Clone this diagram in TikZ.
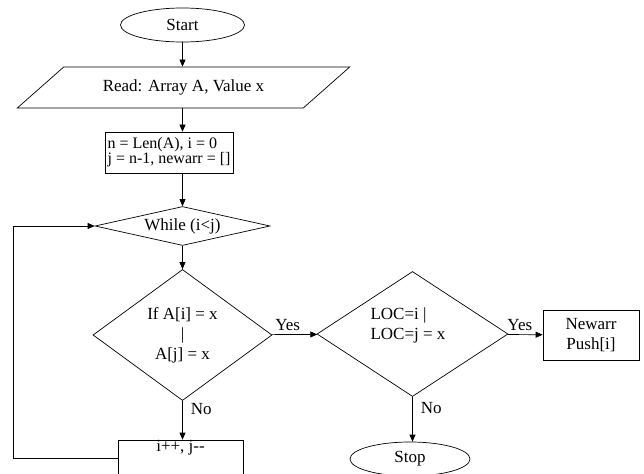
\documentclass[tikz,border=0pt]{standalone}
\usepackage{fontspec}
\setmainfont{Liberation Serif}
\usepackage{tikz}
\usetikzlibrary{shapes.geometric}
\usetikzlibrary{arrows.meta}
\tikzstyle{Base}=[draw=black,line width=0.7pt,font=\fontsize{17}{20}\selectfont,
inner sep=0pt]
\tikzstyle{Terminal}=[Base,ellipse,minimum width=124pt,minimum height=34pt]
\tikzstyle{InOut}=[Base,trapezium,trapezium left angle=26.3,
trapezium right angle=153.7,trapezium stretches=true,
minimum width=333pt,minimum height=41pt]
\tikzstyle{Process}=[Base,rectangle,align=left,inner xsep=2pt]
\tikzstyle{Decision}=[Base,diamond,align=center]
\tikzstyle{Edge}=[draw=black,line width=0.7pt,-{Triangle[length=7pt,width=6pt]}]
\tikzstyle{Label}=[font=\fontsize{17}{20}\selectfont,inner sep=0pt]

\begin{document}
\begin{tikzpicture}[x=1pt,y=-1pt]
        \useasboundingbox (0,0) rectangle (644,473);
        \node[Terminal](start)at(182.5,25){Start};
        \node[InOut](read)at(183.5,87.5){Read: Array A, Value x};
        \node[Process,font=\fontsize{16}{15}\selectfont,minimum width=128pt,
            minimum height=41pt](init)at(169,152.5)
            {n = Len(A), i = 0\\j = n-1, newarr = []};
        \node[Decision,aspect=4.49,minimum width=175pt,minimum height=39pt](while)
            at(182.5,226){While (i<j)};
        \node[Decision,aspect=1.37,minimum width=179pt,minimum height=131pt](if)
            at(182.5,335){If A[i] = x\\|\\A[j] = x};
        \node[Process,align=center,minimum width=125pt,text height=8pt,
            text depth=22pt,inner ysep=3pt](inc)at(180.5,458){i++, j{-}{-}};
        \node[Decision,aspect=1.53,minimum width=191pt,minimum height=125pt](loc)
            at(412.5,334){};
        \node[Label,align=left](loctext)at(408,325){LOC=i |\\LOC=j = x};
        \node[Process,align=center,minimum width=96pt,minimum height=50pt](push)
            at(591,335){Newarr\\Push[i]};
        \node[Terminal,minimum width=120pt](stop)at(410,459){Stop};
        \draw[Edge](start.south)--(start.south|-read.north);
        \draw[Edge](read.south-|start.south)--(init.north-|start.south);
        \draw[Edge](init.south-|start.south)--(while.north);
        \draw[Edge](while)--(if);
        \draw[Edge](if.south)--node[Label,pos=.2,right=8pt]{No}(if.south|-inc.north);
        \draw[Edge](if)--node[Label,above=4pt,pos=.35]{Yes}(loc);
        \draw[Edge](loc)--node[Label,above=4pt,pos=.35]{Yes}(push);
        \draw[Edge](loc.south)--node[Label,pos=.25,right=8pt]{No}(loc.south|-stop.north);
        \draw[Edge](inc.west)--++(-104,0)|-(while.west);
    \end{tikzpicture}
\end{document}
